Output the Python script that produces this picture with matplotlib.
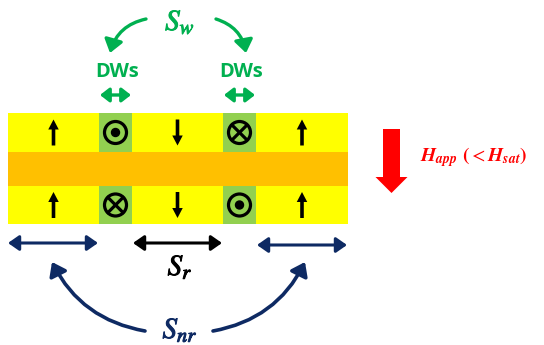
import matplotlib.pyplot as plt
import matplotlib.patheffects as pe
from matplotlib.patches import Rectangle, Circle, FancyArrowPatch, FancyArrow

plt.rcParams['mathtext.fontset'] = 'stix'

# ----------------------------------------------------------------
# Layout data (pixel coordinates, y grows downward)
# ----------------------------------------------------------------
seg_edges   = [8, 99, 132, 223, 256, 348]          # domain / wall boundaries
seg_kind    = ['dom', 'dw', 'dom', 'dw', 'dom']
top_symbols = ['up', 'dot', 'down', 'cross', 'up']
bot_symbols = ['up', 'cross', 'down', 'dot', 'up']
top_layer   = (113, 152)
spacer      = (152, 186)
bot_layer   = (186, 224)

YELLOW = '#FFFF00'
ORANGE = '#FFC000'
LGREEN = '#92D050'
GREEN  = '#00B050'
NAVY   = '#0E2A63'
RED    = '#FF0000'

fig = plt.figure(figsize=(5.44, 3.45), dpi=100)
ax = fig.add_axes([0, 0, 1, 1])
ax.set_xlim(0, 544)
ax.set_ylim(345, 0)
ax.axis('off')


def heavy(color, w=0.7):
    # thicken the thin STIX glyphs a little
    return [pe.withStroke(linewidth=w, foreground=color)]


# ---- layers ----
for (y0, y1) in (top_layer, bot_layer):
    for i, kind in enumerate(seg_kind):
        x0, x1 = seg_edges[i], seg_edges[i + 1]
        ax.add_patch(Rectangle((x0, y0), x1 - x0, y1 - y0,
                               color=YELLOW if kind == 'dom' else LGREEN,
                               lw=0))
ax.add_patch(Rectangle((seg_edges[0], spacer[0]),
                       seg_edges[-1] - seg_edges[0],
                       spacer[1] - spacer[0], color=ORANGE, lw=0))


def draw_symbol(kind, xc, yc):
    if kind in ('up', 'down'):
        sign = -1 if kind == 'up' else 1
        ax.add_patch(FancyArrow(xc, yc - sign * 13, 0, sign * 26,
                                width=3.6, head_width=10.5, head_length=10,
                                length_includes_head=True,
                                color='black', lw=0))
    else:
        ax.add_patch(Circle((xc, yc), 11, fill=False, lw=2.3,
                            ec='black'))
        if kind == 'dot':
            ax.add_patch(Circle((xc, yc), 4, color='black'))
        else:
            d = 7.4
            ax.plot([xc - d, xc + d], [yc - d, yc + d], color='black', lw=2.3)
            ax.plot([xc - d, xc + d], [yc + d, yc - d], color='black', lw=2.3)


for i in range(len(seg_kind)):
    xc = (seg_edges[i] + seg_edges[i + 1]) / 2
    draw_symbol(top_symbols[i], xc, sum(top_layer) / 2)
    draw_symbol(bot_symbols[i], xc, sum(bot_layer) / 2)

# ---- domain-wall labels (top, green) ----
ax.text(180, 22, r'$S_w$', color=GREEN, fontsize=21,
        ha='center', va='center', path_effects=heavy(GREEN))
for i in (1, 3):
    x0, x1 = seg_edges[i], seg_edges[i + 1]
    xc = (x0 + x1) / 2
    ax.text(xc + 2, 72, 'DWs', color=GREEN, fontsize=14.5, fontweight='bold',
            family='Open Sans', ha='center', va='center')
    ax.add_patch(FancyArrowPatch((x0 + 1, 95), (x1 - 1, 95),
                                 arrowstyle='<|-|>,head_length=0.45,head_width=0.35',
                                 mutation_scale=12, lw=2.4, color=GREEN,
                                 shrinkA=0, shrinkB=0))

ax.add_patch(FancyArrowPatch((146, 19), (110, 53),
                             connectionstyle='arc3,rad=0.3',
                             arrowstyle='-|>,head_length=0.55,head_width=0.4',
                             mutation_scale=14, lw=2.4, color=GREEN,
                             shrinkA=0, shrinkB=0))
ax.add_patch(FancyArrowPatch((216, 19), (246, 53),
                             connectionstyle='arc3,rad=-0.3',
                             arrowstyle='-|>,head_length=0.55,head_width=0.4',
                             mutation_scale=14, lw=2.4, color=GREEN,
                             shrinkA=0, shrinkB=0))

# ---- applied field ----
ax.add_patch(FancyArrow(391.5, 129, 0, 64, width=17, head_width=32,
                        head_length=16, length_includes_head=True,
                        color=RED, lw=0))
ax.text(420, 157, r'$\mathbfit{H}_{\mathbfit{app}}\ \mathbf{(}<\mathbfit{H}_{\mathbfit{sat}}\mathbf{)}$',
        color=RED, fontsize=14, ha='left', va='center')

# ---- bottom span arrows ----
span_y = [243, 243, 245]
span_col = [NAVY, 'black', NAVY]
for i, (x0, x1) in enumerate([(8, 98), (133, 222), (257, 347)]):
    ax.add_patch(FancyArrowPatch((x0, span_y[i]), (x1, span_y[i]),
                                 arrowstyle='<|-|>,head_length=0.5,head_width=0.35',
                                 mutation_scale=13, lw=2.2, color=span_col[i],
                                 shrinkA=0, shrinkB=0))

ax.text(180, 267, r'$S_r$', color='black', fontsize=21,
        ha='center', va='center', path_effects=heavy('black'))
ax.text(180, 330, r'$S_{nr}$', color=NAVY, fontsize=21,
        ha='center', va='center', path_effects=heavy(NAVY))

ax.add_patch(FancyArrowPatch((145, 331), (52, 262),
                             connectionstyle='arc3,rad=-0.25',
                             arrowstyle='-|>,head_length=0.55,head_width=0.4',
                             mutation_scale=14, lw=2.6, color=NAVY,
                             shrinkA=0, shrinkB=0))
ax.add_patch(FancyArrowPatch((213, 331), (305, 262),
                             connectionstyle='arc3,rad=0.25',
                             arrowstyle='-|>,head_length=0.55,head_width=0.4',
                             mutation_scale=14, lw=2.6, color=NAVY,
                             shrinkA=0, shrinkB=0))

plt.savefig('out.png', dpi=100)
